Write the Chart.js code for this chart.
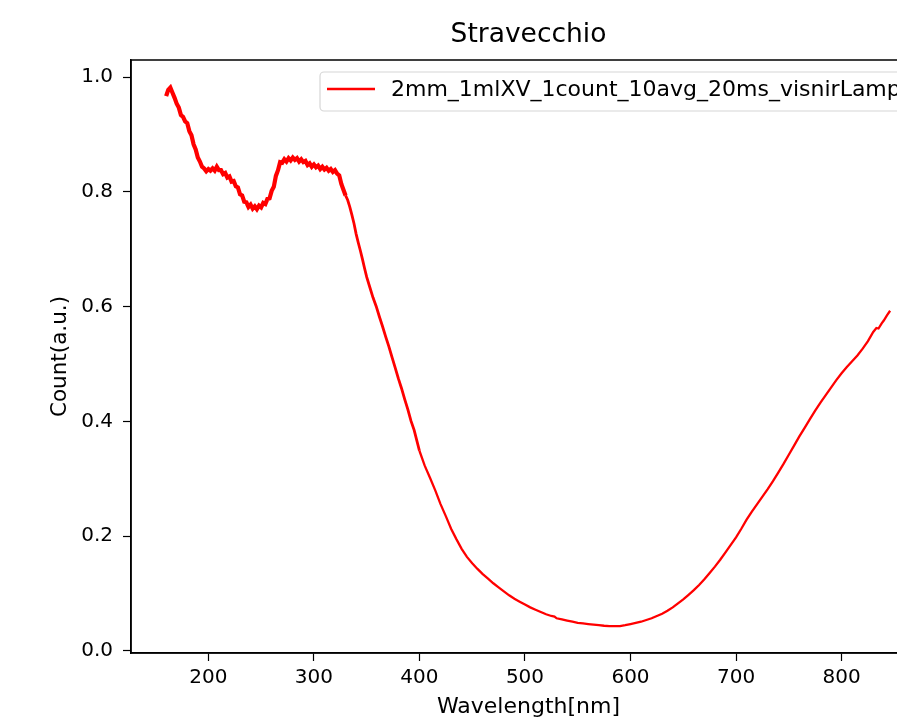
<!DOCTYPE html>
<html>
<head>
<meta charset="utf-8">
<script src="https://cdn.jsdelivr.net/npm/chart.js@4/dist/chart.umd.min.js"></script>
<style>
  html, body { margin: 0; padding: 0; background: #fff; overflow: hidden; }
  canvas { display: block; }
</style>
</head>
<body>
<canvas id="spectrum-chart" width="960" height="721"></canvas>
<script>
// Spectrum "Stravecchio": wavelength [nm] vs normalised count

const TITLE = "Stravecchio";
const SERIES_LABEL = "2mm_1mlXV_1count_10avg_20ms_visnirLamp";
const X_TICKS = [200, 300, 400, 500, 600, 700, 800];
const Y_TICKS = [0.0, 0.2, 0.4, 0.6, 0.8, 1.0];

const WAVELENGTH = [
  160, 162, 164, 166, 168, 170, 172, 174, 176, 178,
  180, 182, 184, 186, 188, 190, 192, 194, 196, 198,
  200, 202, 204, 206, 208, 210, 212, 214, 216, 218,
  220, 222, 224, 226, 228, 230, 232, 234, 236, 238,
  240, 242, 244, 246, 248, 250, 252, 254, 256, 258,
  260, 262, 264, 266, 268, 270, 272, 274, 276, 278,
  280, 282, 284, 286, 288, 290, 292, 294, 296, 298,
  300, 302, 304, 306, 308, 310, 312, 314, 316, 318,
  320, 322, 324, 326, 328, 330, 332, 334, 336, 338,
  340, 342, 344, 346, 348, 350, 353, 356, 359, 362,
  365, 368, 371, 374, 377, 380, 383, 386, 389, 392,
  395, 400, 405, 410, 415, 420, 425, 430, 435, 440,
  445, 450, 455, 460, 465, 470, 475, 480, 485, 490,
  495, 500, 505, 510, 515, 520, 525, 528, 530, 535,
  540, 545, 550, 555, 560, 565, 570, 575, 580, 585,
  590, 595, 600, 605, 610, 615, 620, 625, 630, 635,
  640, 645, 650, 655, 660, 665, 670, 675, 680, 685,
  690, 695, 700, 705, 710, 715, 720, 725, 730, 735,
  740, 745, 750, 755, 760, 765, 770, 775, 780, 785,
  790, 795, 800, 805, 810, 815, 820, 825, 830, 833,
  835, 838, 840, 843, 846
];

const COUNT = [
  0.967, 0.978, 0.982, 0.973, 0.964, 0.954, 0.947, 0.934, 0.931, 0.923,
  0.920, 0.906, 0.899, 0.883, 0.874, 0.860, 0.853, 0.844, 0.841, 0.836,
  0.840, 0.837, 0.841, 0.837, 0.844, 0.838, 0.838, 0.831, 0.833, 0.825,
  0.827, 0.818, 0.819, 0.810, 0.808, 0.796, 0.794, 0.783, 0.782, 0.774,
  0.778, 0.771, 0.775, 0.770, 0.776, 0.773, 0.781, 0.779, 0.788, 0.789,
  0.802, 0.809, 0.828, 0.838, 0.852, 0.851, 0.857, 0.853, 0.859, 0.855,
  0.860, 0.856, 0.859, 0.853, 0.857, 0.852, 0.854, 0.847, 0.850, 0.844,
  0.848, 0.843, 0.846, 0.840, 0.844, 0.839, 0.842, 0.837, 0.840, 0.835,
  0.838, 0.832, 0.829, 0.814, 0.804, 0.794, 0.786, 0.774, 0.760, 0.745,
  0.727, 0.712, 0.698, 0.683, 0.667, 0.652, 0.634, 0.616, 0.601, 0.583,
  0.566, 0.548, 0.531, 0.512, 0.494, 0.475, 0.458, 0.439, 0.421, 0.401,
  0.385, 0.349, 0.323, 0.302, 0.280, 0.256, 0.235, 0.213, 0.195, 0.178,
  0.164, 0.153, 0.143, 0.134, 0.126, 0.118, 0.111, 0.104, 0.097, 0.091,
  0.086, 0.081, 0.076, 0.072, 0.068, 0.064, 0.061, 0.060, 0.057, 0.055,
  0.053, 0.051, 0.049, 0.048, 0.047, 0.046, 0.045, 0.044, 0.0435, 0.0432,
  0.0435, 0.045, 0.047, 0.049, 0.051, 0.054, 0.057, 0.061, 0.065, 0.070,
  0.076, 0.083, 0.090, 0.098, 0.106, 0.115, 0.125, 0.136, 0.147, 0.159,
  0.172, 0.185, 0.198, 0.213, 0.229, 0.243, 0.256, 0.269, 0.282, 0.296,
  0.311, 0.326, 0.342, 0.358, 0.374, 0.389, 0.404, 0.419, 0.433, 0.446,
  0.459, 0.472, 0.484, 0.495, 0.505, 0.515, 0.527, 0.540, 0.556, 0.563,
  0.562, 0.571, 0.576, 0.585, 0.593
];

const FONT = "'DejaVu Sans', sans-serif";
const LINE_COLOR = "#ff0000";

// the measured spectrum is noisy below ~330 nm; draw that stretch as a wider band
function segmentWidth(c) {
  const x = c.p0.parsed.x;
  if (x < 330) return 4.2;
  if (x < 400) return 2.8;
  return 2.3;
}

const titlePlugin = {
  id: "mplTitle",
  afterDraw(chart) {
    const { ctx, chartArea } = chart;
    ctx.save();
    ctx.font = `26.5px ${FONT}`;
    ctx.fillStyle = "#000";
    ctx.textAlign = "center";
    ctx.textBaseline = "middle";
    ctx.fillText(TITLE, (chartArea.left + chartArea.right) / 2, 35);
    ctx.restore();
  },
};

const framePlugin = {
  id: "mplFrame",
  afterDatasetsDraw(chart) {
    const { ctx, chartArea: a } = chart;
    ctx.save();
    ctx.strokeStyle = "#000";
    ctx.lineWidth = 1.5;
    ctx.strokeRect(a.left, a.top, a.right - a.left, a.bottom - a.top);
    ctx.restore();
  },
};

const legendPlugin = {
  id: "mplLegend",
  afterDraw(chart) {
    const { ctx, chartArea: a } = chart;
    const ds = chart.data.datasets[0];
    const x = a.left + 189, y = a.top + 12, w = 640, h = 39, r = 4;
    ctx.save();
    ctx.beginPath();
    ctx.roundRect(x, y, w, h, r);
    ctx.fillStyle = "rgba(255,255,255,0.8)";
    ctx.fill();
    ctx.strokeStyle = "#d6d6d6";
    ctx.lineWidth = 1.2;
    ctx.stroke();
    ctx.beginPath();
    ctx.moveTo(x + 7, y + 17);
    ctx.lineTo(x + 55, y + 17);
    ctx.strokeStyle = ds.borderColor;
    ctx.lineWidth = 2.3;
    ctx.stroke();
    ctx.font = `22px ${FONT}`;
    ctx.fillStyle = "#000";
    ctx.textBaseline = "middle";
    ctx.textAlign = "left";
    ctx.fillText(ds.label, x + 71, y + 18);
    ctx.restore();
  },
};

const ctx = document.getElementById("spectrum-chart").getContext("2d");
new Chart(ctx, {
  type: "line",
  data: {
    datasets: [
      {
        label: SERIES_LABEL,
        data: WAVELENGTH.map((w, i) => ({ x: w, y: COUNT[i] })),
        borderColor: LINE_COLOR,
        backgroundColor: LINE_COLOR,
        borderWidth: 2.3,
        pointRadius: 0,
        tension: 0,
        segment: { borderWidth: segmentWidth },
      },
    ],
  },
  options: {
    responsive: false,
    animation: false,
    layout: { padding: { top: 60, right: 34, left: 0, bottom: 0 } },
    scales: {
      x: {
        type: "linear",
        min: 126.7,
        max: 880,
        afterFit: (s) => { s.height = 68; },
        afterBuildTicks: (s) => { s.ticks = X_TICKS.map((v) => ({ value: v })); },
        border: { display: true, color: "#000", width: 1.5 },
        grid: { drawOnChartArea: false, drawTicks: true, tickLength: 8, tickColor: "#000", tickWidth: 1.2 },
        ticks: { color: "#000", padding: 5, font: { family: FONT, size: 20 }, maxRotation: 0, callback: (v) => String(v) },
        title: { display: true, text: "Wavelength[nm]", color: "#000", font: { family: FONT, size: 22 }, padding: { top: 0, bottom: 1 } },
      },
      y: {
        type: "linear",
        min: -0.0035,
        max: 1.03,
        afterFit: (s) => { s.width = 131; },
        afterBuildTicks: (s) => { s.ticks = Y_TICKS.map((v) => ({ value: v })); },
        border: { display: true, color: "#000", width: 1.5 },
        grid: { drawOnChartArea: false, drawTicks: true, tickLength: 8, tickColor: "#000", tickWidth: 1.2 },
        ticks: { color: "#000", padding: 10, font: { family: FONT, size: 20 }, callback: (v) => Number(v).toFixed(1) },
        title: { display: true, text: "Count(a.u.)", color: "#000", font: { family: FONT, size: 21.5 }, padding: { top: 48, bottom: 0 } },
      },
    },
    plugins: {
      legend: { display: false },
      tooltip: { enabled: false },
    },
  },
  plugins: [titlePlugin, framePlugin, legendPlugin],
});
</script>
</body>
</html>
